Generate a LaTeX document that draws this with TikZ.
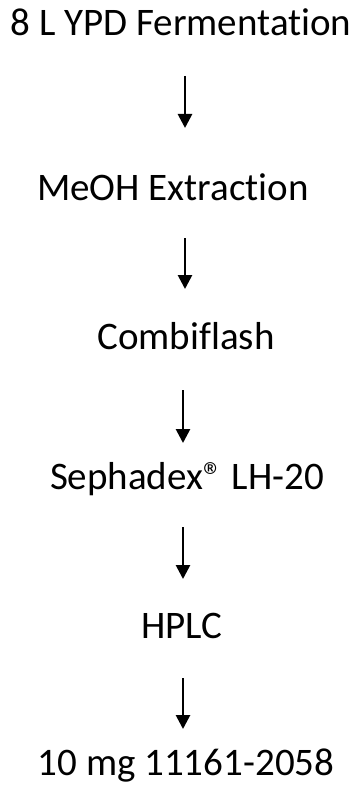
\documentclass[tikz,border=0pt]{standalone}
\usepackage{fontspec}
\setmainfont{Carlito}[Ligatures={NoCommon}]
\usetikzlibrary{arrows.meta}
\tikzset{
  stagetext/.style={anchor=base, inner sep=0pt, font=\fontsize{39}{44}\selectfont},
  flowarrow/.style={line width=2.7pt, -{Triangle[width=14pt,length=14pt]}}
}
\begin{document}
\begin{tikzpicture}[x=1pt,y=1pt]
\useasboundingbox (0,0) rectangle (356,-786);
\node[stagetext] (t1) at (181,-36) {8 L YPD Fermentation};
\node[stagetext] (t2) at (173,-201) {MeOH Extraction};
\node[stagetext] (t3) at (186,-349) {Combiflash};
\node[stagetext] (t4) at (187,-489) {Sephadex® LH-20};
\node[stagetext] (t5) at (182,-638) {HPLC};
\node[stagetext] (t6) at (186,-775) {10 mg 11161-2058};
% arrow ends between the stages
\coordinate (a1s) at (185,-76);  \coordinate (a1e) at (185,-128);
\coordinate (a2s) at (185,-238); \coordinate (a2e) at (185,-289);
\coordinate (a3s) at (183,-390); \coordinate (a3e) at (183,-443);
\coordinate (a4s) at (183,-527); \coordinate (a4e) at (183,-579);
\coordinate (a5s) at (183,-678); \coordinate (a5e) at (183,-729);
\draw[flowarrow] (a1s) -- (a1e);
\draw[flowarrow] (a2s) -- (a2e);
\draw[flowarrow] (a3s) -- (a3e);
\draw[flowarrow] (a4s) -- (a4e);
\draw[flowarrow] (a5s) -- (a5e);
\end{tikzpicture}
\end{document}
